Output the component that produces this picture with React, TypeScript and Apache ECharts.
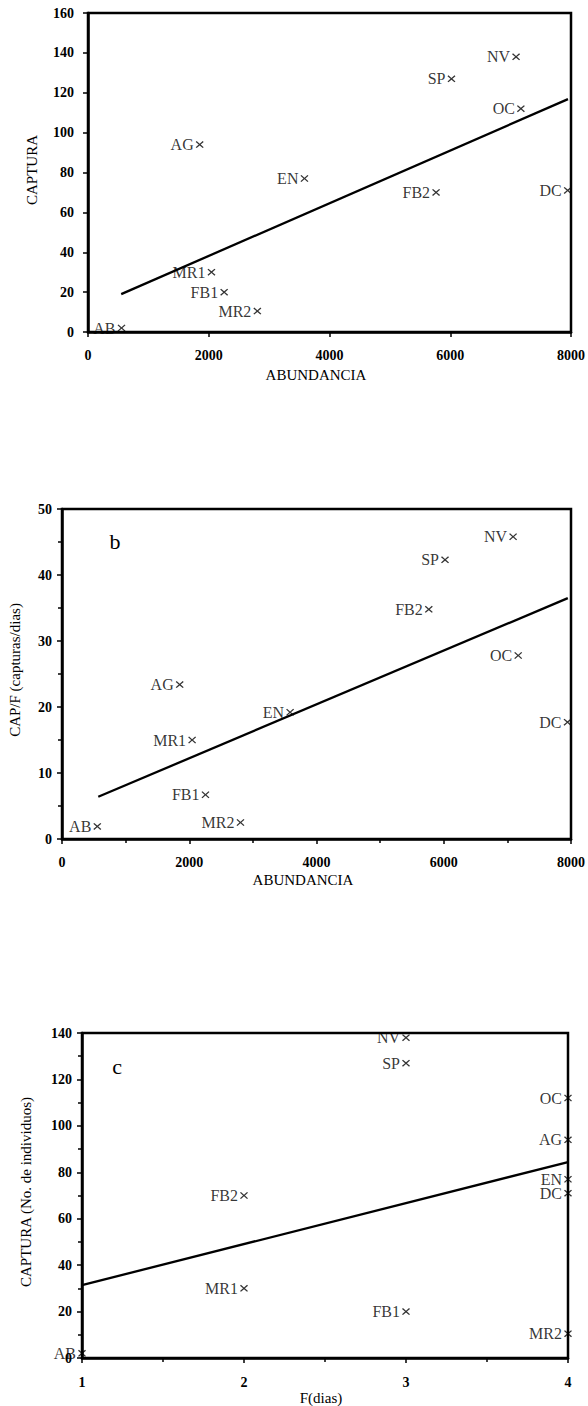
import React, { useEffect, useRef } from "react";
import * as echarts from "echarts";

// ---- data ----
const sites = ["AB", "MR1", "FB1", "MR2", "AG", "EN", "FB2", "SP", "NV", "OC", "DC"];
const abundancia = [555, 2045, 2255, 2805, 1850, 3585, 5765, 6020, 7090, 7170, 7945];
const captura = [2, 30, 20, 10.5, 94, 77, 70, 127, 138, 112, 71];
const capF = [1.9, 15, 6.7, 2.5, 23.4, 19.2, 34.8, 42.3, 45.8, 27.8, 17.7];
const fDias = [1, 2, 3, 4, 4, 4, 2, 3, 3, 4, 4];

const lineA = [[550, 19], [7950, 116.8]];
const lineB = [[570, 6.4], [7950, 36.5]];
const lineC = [[1, 31.4], [4, 84.4]];

const abTicks = { min: 0, max: 8000, interval: 2000 };
const capTicks = { min: 0, max: 160, interval: 20 };
const capFTicks = { min: 0, max: 50, interval: 10 };
const fTicks = { min: 1, max: 4, interval: 1 };
const cap3Ticks = { min: 0, max: 140, interval: 20 };

const SERIF = '"Liberation Serif", "DejaVu Serif", serif';

const CROSS =
  "path://M0,1.2L1.2,0L5,3.8L8.8,0L10,1.2L6.2,5L10,8.8L8.8,10L5,6.2L1.2,10L0,8.8L3.8,5Z";

function pts(xs: number[], ys: number[]) {
  return sites.map((s, i) => ({ name: s, value: [xs[i], ys[i]] }));
}

function axis(gridIndex: number, ticks: any, margin: number, minor: boolean) {
  return {
    type: "value",
    gridIndex,
    ...ticks,
    axisLine: { show: true, onZero: false, lineStyle: { color: "#000", width: 2.5 } },
    axisTick: { show: true, inside: false, length: 5, lineStyle: { color: "#000", width: 1.5 } },
    minorTick: { show: minor, splitNumber: 2, length: 4, lineStyle: { color: "#000", width: 1.5 } },
    splitLine: { show: false },
    axisLabel: {
      margin,
      color: "#000",
      fontFamily: SERIF,
      fontSize: 14,
      fontWeight: "bold",
      formatter: (v: number) => String(v),
    },
  };
}

function scatter(idx: number, data: any[]) {
  return {
    type: "scatter",
    xAxisIndex: idx,
    yAxisIndex: idx,
    data,
    symbol: CROSS,
    symbolSize: [8, 7],
    itemStyle: { color: "#000" },
    label: {
      show: true,
      position: "left",
      distance: 2,
      formatter: "{b}",
      color: "#000",
      fontFamily: SERIF,
      fontSize: 16,
    },
    clip: false,
    z: 3,
  };
}

function regLine(idx: number, data: number[][]) {
  return {
    type: "line",
    xAxisIndex: idx,
    yAxisIndex: idx,
    data,
    showSymbol: false,
    symbol: "none",
    lineStyle: { color: "#000", width: 2.3 },
    z: 2,
  };
}

function title(text: string, x: number, y: number, rotate = 0, size = 15) {
  return {
    type: "text",
    x,
    y,
    rotation: rotate,
    style: {
      text,
      fill: "#000",
      font: `${size}px ${SERIF}`,
      align: "center",
      verticalAlign: "middle",
    },
  };
}

export default function App() {
  const ref = useRef<HTMLDivElement>(null);

  useEffect(() => {
    document.body.style.margin = "0";
    const chart = echarts.init(ref.current!, null, { renderer: "svg" });
    const gridBase = { show: true, borderColor: "#000", borderWidth: 2.5, containLabel: false };
    chart.setOption({
      animation: false,
      backgroundColor: "#fff",
      grid: [
        { ...gridBase, left: 88, top: 13, width: 484, height: 319 },
        { ...gridBase, left: 62, top: 509, width: 510, height: 330 },
        { ...gridBase, left: 82, top: 1033, width: 486, height: 325 },
      ],
      xAxis: [
        axis(0, abTicks, 16, false),
        axis(1, abTicks, 16, true),
        axis(2, fTicks, 17, true),
      ],
      yAxis: [
        axis(0, capTicks, 14, false),
        axis(1, capFTicks, 10, true),
        axis(2, cap3Ticks, 10, true),
      ],
      series: [
        scatter(0, pts(abundancia, captura)),
        regLine(0, lineA),
        scatter(1, pts(abundancia, capF)),
        regLine(1, lineB),
        scatter(2, pts(fDias, captura)),
        regLine(2, lineC),
      ],
      graphic: [
        title("ABUNDANCIA", 316, 375),
        title("CAPTURA", 32, 170, Math.PI / 2),
        title("ABUNDANCIA", 303, 880),
        title("CAP/F (capturas/dias)", 15, 670, Math.PI / 2),
        title("F(dias)", 321, 1398),
        title("CAPTURA (No. de individuos)", 26, 1192, Math.PI / 2),
        title("b", 115, 541, 0, 22),
        title("c", 117, 1066, 0, 22),
      ],
    });
    return () => chart.dispose();
  }, []);

  return <div ref={ref} style={{ width: 588, height: 1406 }} />;
}
